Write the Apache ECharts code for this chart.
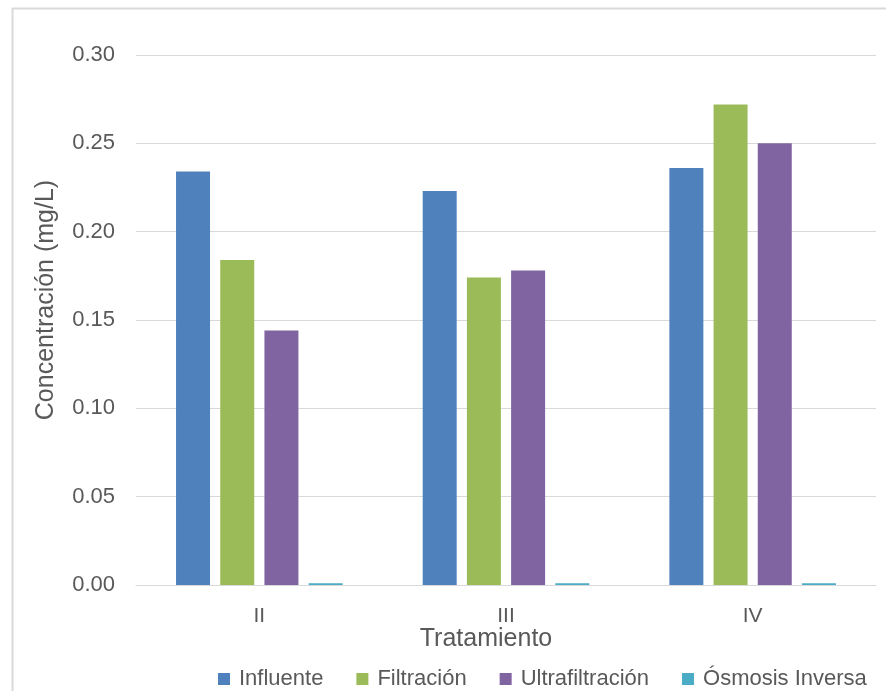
<!DOCTYPE html>
<html>
<head>
<meta charset="utf-8">
<script src="https://cdn.jsdelivr.net/npm/echarts@6/dist/echarts.min.js"></script>
<style>html,body{margin:0;padding:0;background:#fff}#c{width:886px;height:691px}</style>
</head>
<body>
<div id="c"></div>
<script>
const categories = ['II', 'III', 'IV'];
const seriesNames = ['Influente', 'Filtración', 'Ultrafiltración', 'Ósmosis Inversa'];
const influente = [0.234, 0.223, 0.236];
const filtracion = [0.184, 0.174, 0.272];
const ultrafiltracion = [0.144, 0.178, 0.250];
const osmosisInversa = [0.001, 0.001, 0.001];
const yTicks = [0, 0.05, 0.10, 0.15, 0.20, 0.25, 0.30];

const colors = ['#4F81BD', '#9BBB59', '#8064A2', '#4BACC6'];
const values = [influente, filtracion, ultrafiltracion, osmosisInversa];
const font = 'Liberation Sans';
const txt = '#595959';

const chart = echarts.init(document.getElementById('c'));
chart.setOption({
  animation: false,
  color: colors,
  grid: { left: 136, right: 10, top: 55, bottom: 106, containLabel: false },
  legend: {
    data: seriesNames,
    top: 663,
    left: 213,
    itemWidth: 12,
    itemHeight: 12,
    itemGap: 33,
    icon: 'rect',
    textStyle: { color: txt, fontFamily: font, fontSize: 22, padding: [0, 0, 0, 4] }
  },
  xAxis: {
    type: 'category',
    data: categories,
    axisTick: { show: false },
    axisLine: { lineStyle: { color: '#d9d9d9', width: 1 } },
    axisLabel: { color: txt, fontFamily: font, fontSize: 21, margin: 21 }
  },
  yAxis: {
    type: 'value',
    min: yTicks[0],
    max: yTicks[yTicks.length - 1],
    interval: 0.05,
    axisLine: { show: false },
    axisTick: { show: false },
    splitLine: { lineStyle: { color: '#d9d9d9', width: 1 } },
    axisLabel: { color: txt, fontFamily: font, fontSize: 22, margin: 21, formatter: v => v.toFixed(2) }
  },
  graphic: [
    { type: 'rect', left: 10, top: 6, shape: { width: 900, height: 720 }, style: { fill: 'none', stroke: '#d9d9d9', lineWidth: 2 }, silent: true, z: -1 },
    { type: 'text', x: 486, y: 639, style: { text: 'Tratamiento', fill: txt, font: '25px "Liberation Sans"', align: 'center', verticalAlign: 'middle' } },
    { type: 'text', x: 46, y: 300, rotation: Math.PI / 2, style: { text: 'Concentración (mg/L)', fill: txt, font: '25px "Liberation Sans"', align: 'center', verticalAlign: 'middle' } }
  ],
  series: seriesNames.map((n, i) => ({
    name: n,
    type: 'bar',
    data: values[i],
    barWidth: 34,
    barGap: '30%'
  }))
});
</script>
</body>
</html>
